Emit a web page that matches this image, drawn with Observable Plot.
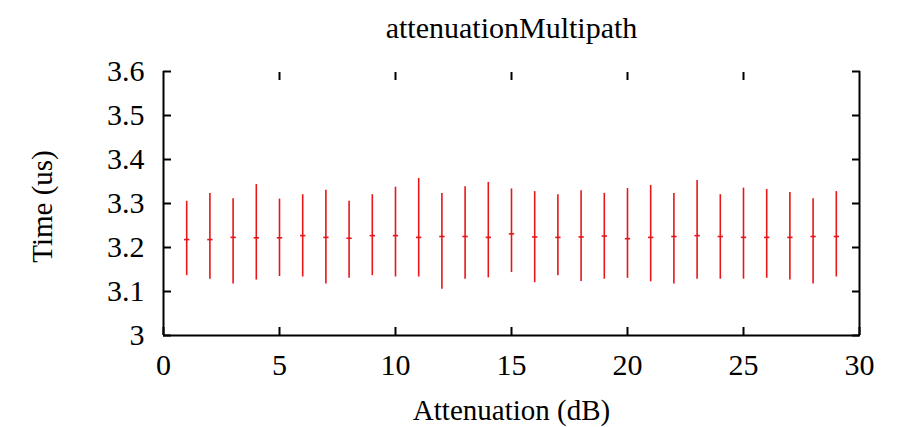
<!DOCTYPE html>
<html><head><meta charset="utf-8">
<script src="https://cdn.jsdelivr.net/npm/d3@7"></script>
<script src="https://cdn.jsdelivr.net/npm/@observablehq/plot@0.6"></script>
<style>body{margin:0;background:#fff}</style>
</head><body><div id="chart"></div>
<script>
const attenuation = [1,2,3,4,5,6,7,8,9,10,11,12,13,14,15,16,17,18,19,20,21,22,23,24,25,26,27,28,29];
const meanTime = [3.218,3.218,3.223,3.222,3.222,3.227,3.223,3.221,3.227,3.227,3.223,3.225,3.225,3.223,3.231,3.224,3.223,3.224,3.226,3.220,3.223,3.225,3.227,3.225,3.223,3.223,3.223,3.225,3.225];
const lowTime  = [3.136,3.128,3.117,3.126,3.134,3.133,3.117,3.130,3.136,3.133,3.133,3.105,3.128,3.131,3.143,3.120,3.136,3.123,3.128,3.130,3.122,3.117,3.128,3.128,3.128,3.130,3.126,3.117,3.133];
const highTime = [3.305,3.323,3.311,3.343,3.310,3.320,3.330,3.305,3.320,3.337,3.357,3.323,3.338,3.348,3.333,3.327,3.320,3.329,3.323,3.334,3.341,3.323,3.352,3.320,3.335,3.332,3.325,3.311,3.327];
const xTicks = [0,5,10,15,20,25,30];
const xInnerTicks = [5,10,15,20,25];
const yTicks = [3,3.1,3.2,3.3,3.4,3.5,3.6];
const xDomain = [0,30];
const yDomain = [3,3.6];

const data = attenuation.map((a,i)=>({x:a, mean:meanTime[i], lo:lowTime[i], hi:highTime[i]}));
const red = "#e8161b";
const serif = "'Liberation Serif', 'Times New Roman', serif";
const hbar = {draw(ctx, size){ const r = Math.sqrt(size); ctx.moveTo(-r,0); ctx.lineTo(r,0);} };

const chart = Plot.plot({
  width: 903, height: 427,
  marginLeft: 163, marginRight: 44, marginTop: 71, marginBottom: 92,
  style: {fontFamily: serif, fontSize: "30px", color: "#000", background: "#fff", overflow: "visible"},
  x: {domain: xDomain},
  y: {domain: yDomain},
  marks: [
    Plot.ruleX(data, {x:"x", y1:"lo", y2:"hi", stroke: red, strokeWidth: 1.6}),
    Plot.dot(data, {x:"x", y:"mean", symbol: hbar, r: 1.5, stroke: red, strokeWidth: 1.6, fill: "none"}),
    Plot.ruleX(xDomain, {stroke:"#000", strokeWidth: 2}),
    Plot.ruleY([yDomain[0]], {stroke:"#000", strokeWidth: 2}),
    Plot.axisY({anchor:"left", ticks: yTicks, tickSize: -8, tickPadding: 27, strokeWidth: 2, tickFormat: d=>d, label: null, fontSize: 30}),
    Plot.axisY({anchor:"right", ticks: yTicks, tickSize: -8, tickFormat: ()=>"", strokeWidth: 2, label: null}),
    Plot.axisX({anchor:"bottom", ticks: xTicks, tickSize: -8, tickPadding: 26, strokeWidth: 2, label: null, fontSize: 30}),
    Plot.axisX({anchor:"top", ticks: xInnerTicks, tickSize: -8, tickFormat: ()=>"", strokeWidth: 2, label: null}),
    Plot.text(["attenuationMultipath"], {frameAnchor:"top", lineAnchor:"middle", dy: -43, fontSize: 30}),
    Plot.text(["Attenuation (dB)"], {frameAnchor:"bottom", lineAnchor:"middle", dy: 75, fontSize: 29}),
    Plot.text(["Time (us)"], {frameAnchor:"left", textAnchor:"middle", lineAnchor:"middle", dx: -121, dy: 3, rotate: -90, fontSize: 29})
  ]
});
document.getElementById("chart").appendChild(chart);
</script>
</body></html>
